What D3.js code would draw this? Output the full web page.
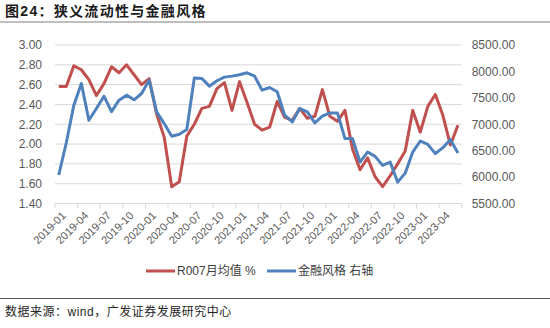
<!DOCTYPE html>
<html>
<head>
<meta charset="utf-8">
<script src="https://cdn.jsdelivr.net/npm/d3@7"></script>
<style>
  html, body { margin: 0; padding: 0; background: #fff; }
  svg { display: block; }
</style>
</head>
<body>
<svg id="chart" width="550" height="328"></svg>
<script>
// Monthly categories, 2019-01 .. 2023-06
const months = [];
for (let y = 2019; y <= 2023; y++) {
  for (let m = 1; m <= 12; m++) {
    if (y === 2023 && m > 6) break;
    months.push(y + "-" + String(m).padStart(2, "0"));
  }
}

// R007 monthly average, %
const r007 = [
  2.58, 2.58, 2.79, 2.75, 2.65, 2.49, 2.61, 2.78, 2.72, 2.80, 2.70, 2.60,
  2.66, 2.30, 2.07, 1.57, 1.62, 2.08, 2.20, 2.36, 2.38, 2.56, 2.62, 2.34,
  2.63, 2.42, 2.20, 2.14, 2.17, 2.43, 2.27, 2.24, 2.36, 2.26, 2.28, 2.55,
  2.28, 2.23, 2.34, 1.95, 1.74, 1.86, 1.67, 1.57, 1.68, 1.80, 1.93, 2.34,
  2.12, 2.38, 2.50, 2.29, 1.99, 2.19
];

// Financial style index (right axis)
const finStyle = [
  6040, 6650, 7360, 7772, 7075, 7297, 7531, 7240, 7456, 7551, 7462, 7582,
  7835, 7233, 7013, 6772, 6810, 6899, 7876, 7867, 7721, 7823, 7892, 7911,
  7936, 7974, 7911, 7645, 7696, 7614, 7171, 7044, 7297, 7234, 7025, 7152,
  7215, 7215, 6728, 6728, 6284, 6474, 6392, 6221, 6284, 5904, 6075, 6474,
  6683, 6620, 6443, 6557, 6709, 6455
];

const leftTicks = [1.4, 1.6, 1.8, 2.0, 2.2, 2.4, 2.6, 2.8, 3.0];
const rightTicks = [5500, 6000, 6500, 7000, 7500, 8000, 8500];
const xLabels = months.filter((d, i) => i % 3 === 0);

const titleText = "图24：狭义流动性与金融风格";
const legendNames = ["R007月均值 %", "金融风格 右轴"];
const sourceText = "数据来源：wind，广发证券发展研究中心";

const RED = "#C0504D", BLUE = "#4F81BD";
const numFont = "'Liberation Sans', Arial, sans-serif";
const cjkFont = "'Liberation Sans', 'Noto Sans CJK SC', sans-serif";

const svg = d3.select("#chart");
const plot = { left: 55, right: 461.7, top: 45, bottom: 203.5 };

const x = d3.scaleBand().domain(months).range([plot.left, plot.right]).paddingInner(0).paddingOuter(0);
const cx = d => x(d) + x.bandwidth() / 2;
const yL = d3.scaleLinear().domain([1.4, 3.0]).range([plot.bottom, plot.top]);
const yR = d3.scaleLinear().domain([5500, 8500]).range([plot.bottom, plot.top]);

// Title and rule beneath it
svg.append("text")
  .attr("x", 5).attr("y", 16)
  .attr("font-family", "'Liberation Sans', 'Noto Sans CJK SC', sans-serif")
  .attr("font-weight", "bold").attr("font-size", 14)
  .attr("letter-spacing", 1.3)
  .attr("fill", "#1a1a1a")
  .text(titleText);
svg.append("line")
  .attr("x1", 0).attr("x2", 550).attr("y1", 22).attr("y2", 22)
  .attr("stroke", "#7f7f7f").attr("stroke-width", 1);

// Gridlines from left axis ticks
svg.append("g").selectAll("line")
  .data(leftTicks.slice(1))
  .join("line")
  .attr("x1", plot.left).attr("x2", plot.right)
  .attr("y1", d => yL(d)).attr("y2", d => yL(d))
  .attr("stroke", "#d9d9d9").attr("stroke-width", 1);

// Left axis labels
const leftAxis = d3.axisLeft(yL).tickValues(leftTicks).tickFormat(d3.format(".2f")).tickSize(0).tickPadding(13);
const gL = svg.append("g").attr("transform", `translate(${plot.left},0)`).call(leftAxis);
gL.select(".domain").remove();
gL.selectAll("text").attr("font-family", numFont).attr("font-size", 12).attr("fill", "#595959");

// Right axis labels
const rightAxis = d3.axisRight(yR).tickValues(rightTicks).tickFormat(d3.format(".2f")).tickSize(0).tickPadding(10);
const gR = svg.append("g").attr("transform", `translate(${plot.right},0)`).call(rightAxis);
gR.select(".domain").remove();
gR.selectAll("text").attr("font-family", numFont).attr("font-size", 12).attr("fill", "#595959");

// Bottom category axis: baseline, tick marks every 3 months, rotated labels
svg.append("line")
  .attr("x1", plot.left).attr("x2", plot.right)
  .attr("y1", plot.bottom).attr("y2", plot.bottom)
  .attr("stroke", "#d9d9d9").attr("stroke-width", 1);
const tickPos = months.filter((d, i) => i % 3 === 0).map(d => x(d)).concat([plot.right]);
svg.append("g").selectAll("line")
  .data(tickPos)
  .join("line")
  .attr("x1", d => d).attr("x2", d => d)
  .attr("y1", plot.bottom).attr("y2", plot.bottom + 5)
  .attr("stroke", "#d9d9d9").attr("stroke-width", 1);
svg.append("g").selectAll("text")
  .data(xLabels)
  .join("text")
  .attr("transform", d => `translate(${cx(d) + 5},${plot.bottom + 10}) rotate(-45)`)
  .attr("text-anchor", "end")
  .attr("dy", "0.35em")
  .attr("font-family", numFont).attr("font-size", 11).attr("fill", "#595959")
  .text(d => d);

// Series lines
const lineL = d3.line().x((d, i) => cx(months[i])).y(d => yL(d));
const lineR = d3.line().x((d, i) => cx(months[i])).y(d => yR(d));
svg.append("path").datum(r007)
  .attr("d", lineL).attr("fill", "none")
  .attr("stroke", RED).attr("stroke-width", 3).attr("stroke-linejoin", "round");
svg.append("path").datum(finStyle)
  .attr("d", lineR).attr("fill", "none")
  .attr("stroke", BLUE).attr("stroke-width", 3).attr("stroke-linejoin", "round");

// Legend
const legend = [
  { name: legendNames[0], color: RED, x: 146 },
  { name: legendNames[1], color: BLUE, x: 267 }
];
const lg = svg.append("g").selectAll("g").data(legend).join("g")
  .attr("transform", d => `translate(${d.x},271)`);
lg.append("line").attr("x1", 0).attr("x2", 29).attr("y1", 0).attr("y2", 0)
  .attr("stroke", d => d.color).attr("stroke-width", 3);
lg.append("text").attr("x", 31).attr("dy", "0.35em")
  .attr("font-family", cjkFont).attr("font-size", 12).attr("fill", "#404040")
  .text(d => d.name);

// Source rule and note
svg.append("line")
  .attr("x1", 0).attr("x2", 550).attr("y1", 298.5).attr("y2", 298.5)
  .attr("stroke", "#595959").attr("stroke-width", 1);
svg.append("text")
  .attr("x", 5).attr("y", 316)
  .attr("font-family", cjkFont).attr("font-size", 12).attr("fill", "#262626")
  .attr("letter-spacing", 0.5)
  .text(sourceText);
</script>
</body>
</html>
